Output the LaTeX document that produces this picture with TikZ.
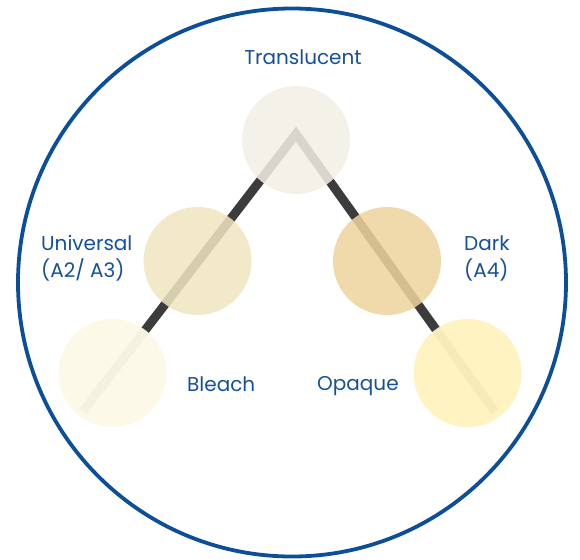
\documentclass[tikz,border=0pt]{standalone}
\usepackage{fontspec}
\setmainfont{Poppins}
\usepackage{tikz}

\definecolor{rimblue}{RGB}{12,78,152}
\definecolor{labelblue}{RGB}{22,80,155}
\definecolor{bargray}{RGB}{60,60,60}
\definecolor{translucentfill}{RGB}{242,240,228}
\definecolor{universalfill}{RGB}{240,229,191}
\definecolor{darkfill}{RGB}{238,211,156}
\definecolor{bleachfill}{RGB}{253,249,231}
\definecolor{opaquefill}{RGB}{254,242,190}

\begin{document}
\begin{tikzpicture}[x=1pt, y=-1pt,
    disc/.style={circle, minimum size=108pt, inner sep=0pt, fill opacity=0.86},
    tag/.style={text=labelblue, font=\fontsize{20}{27}\selectfont, inner sep=0pt, align=left}]
    \useasboundingbox (0,0) rectangle (580,559);
    \draw[rimblue, line width=3.8pt] (292,282.5) circle (274);
    % the bar behind the shades
    \coordinate (apex) at (296,134);
    \coordinate (bleach-tail) at (83,411);
    \coordinate (opaque-tail) at (495,412);
    \draw[bargray, line width=9pt] (bleach-tail) -- (apex) -- (opaque-tail);
    % shades
    \node[disc, fill=translucentfill] (translucent) at (296,140) {};
    \node[disc, fill=universalfill] (universal) at (197.5,261) {};
    \node[disc, fill=darkfill] (dark) at (387,261) {};
    \node[disc, fill=bleachfill, fill opacity=0.96] (bleach) at (112.5,373) {};
    \node[disc, fill=opaquefill, fill opacity=0.96] (opaque) at (467.5,373) {};
    % labels
    \node[tag, anchor=base] (translucent-label) at (303,65) {Translucent};
    \node[tag, anchor=base west] (universal-label) at (41,277) {Universal\\(A2/ A3)};
    \node[tag, anchor=base west] (dark-label) at (464,277) {Dark\\(A4)};
    \node[tag, anchor=base west] (bleach-label) at (187,391) {Bleach};
    \node[tag, anchor=base west] (opaque-label) at (317,390) {Opaque};
\end{tikzpicture}
\end{document}
